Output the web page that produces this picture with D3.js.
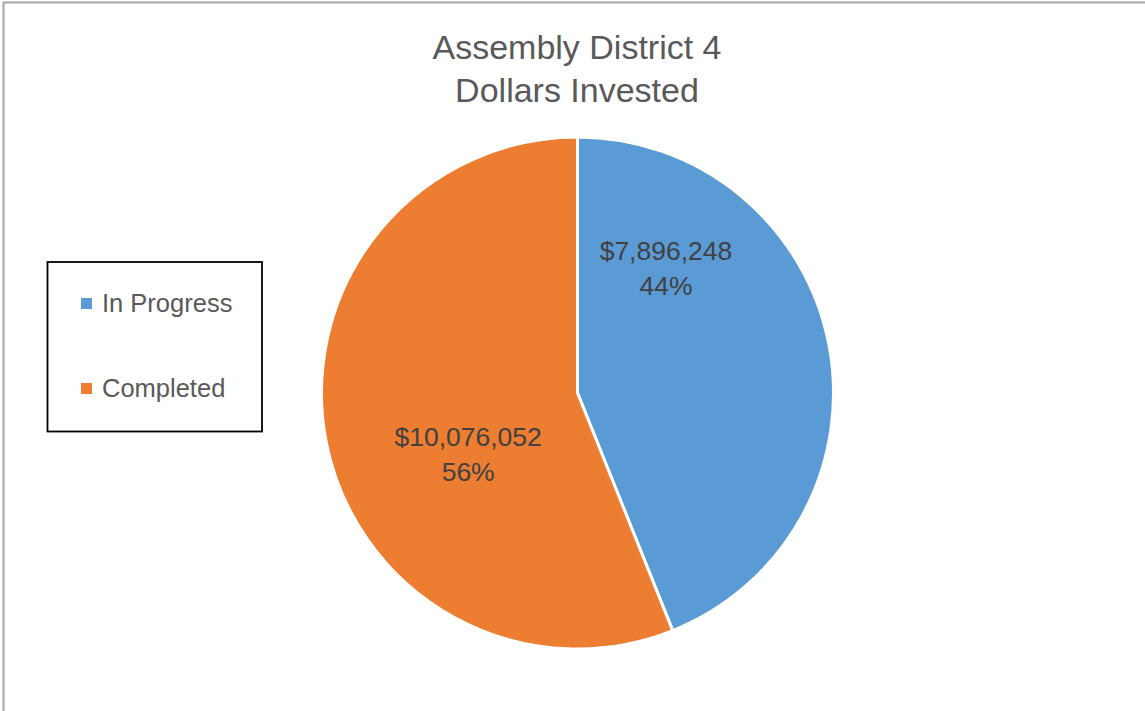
<!DOCTYPE html>
<html>
<head>
<meta charset="utf-8">
<script src="https://cdn.jsdelivr.net/npm/d3@7"></script>
<style>
  html, body { margin: 0; padding: 0; background: #fff; }
  svg { display: block; }
  text { font-family: "Liberation Sans", "DejaVu Sans", sans-serif; }
</style>
</head>
<body>
<svg id="chart" width="1145" height="711"></svg>
<script>
const categories = ["In Progress", "Completed"];
const values = [7896248, 10076052];
const colors = ["#5B9BD5", "#ED7D31"];
const titleLines = ["Assembly District 4", "Dollars Invested"];

const W = 1145, H = 711;
const svg = d3.select("#chart");

// outer chart border (only top and left visible in the frame)
svg.append("rect")
  .attr("x", 3.5).attr("y", 2.5)
  .attr("width", W + 10).attr("height", H + 10)
  .attr("fill", "none").attr("stroke", "#a6a6a6").attr("stroke-width", 2);

// title
svg.append("text")
  .attr("text-anchor", "middle")
  .attr("fill", "#595959")
  .attr("font-size", 34)
  .selectAll("tspan").data(titleLines).join("tspan")
  .attr("x", 577).attr("y", (d, i) => 59 + i * 43)
  .text(d => d);

// pie
const cx = 577.5, cy = 393, r = 256;
const total = d3.sum(values);
const data = categories.map((c, i) => ({ name: c, value: values[i], color: colors[i] }));
const pie = d3.pie().sort(null).value(d => d.value);
const arcs = pie(data);
const arc = d3.arc().innerRadius(0).outerRadius(r);

const g = svg.append("g").attr("transform", `translate(${cx},${cy})`);
g.selectAll("path").data(arcs).join("path")
  .attr("d", arc)
  .attr("fill", d => d.data.color)
  .attr("stroke", "#fff").attr("stroke-width", 3).attr("stroke-linejoin", "round");

// label placement (Excel-style best fit): angle (rad from top, clockwise) and radius per slice
const labelPlace = [
  { a: 0.651, rr: 146 },
  { a: 4.141, rr: 130 }
];
const fmt = d3.format("$,");
const pct = d3.format(".0%");
const labels = g.selectAll("text.lbl").data(arcs).join("text")
  .attr("class", "lbl")
  .attr("text-anchor", "middle")
  .attr("fill", "#404040")
  .attr("font-size", 26.5);
labels.each(function(d, i) {
  const p = labelPlace[i];
  const lx = Math.sin(p.a) * p.rr, ly = -Math.cos(p.a) * p.rr;
  const t = d3.select(this);
  t.append("tspan").attr("x", lx).attr("y", ly - 17).text(fmt(d.data.value));
  t.append("tspan").attr("x", lx).attr("y", ly + 18).text(pct(d.data.value / total));
});

// legend
const lg = svg.append("g");
lg.append("rect")
  .attr("x", 47.5).attr("y", 262).attr("width", 214.5).attr("height", 169.5)
  .attr("fill", "#fff").attr("stroke", "#000").attr("stroke-width", 1.8);
const items = lg.selectAll("g.item").data(data).join("g")
  .attr("class", "item")
  .attr("transform", (d, i) => `translate(0,${i * 85})`);
items.append("rect")
  .attr("x", 81).attr("y", 298).attr("width", 11).attr("height", 11)
  .attr("fill", d => d.color);
items.append("text")
  .attr("x", 102).attr("y", 312)
  .attr("fill", "#595959").attr("font-size", 25.5)
  .text(d => d.name);
</script>
</body>
</html>
